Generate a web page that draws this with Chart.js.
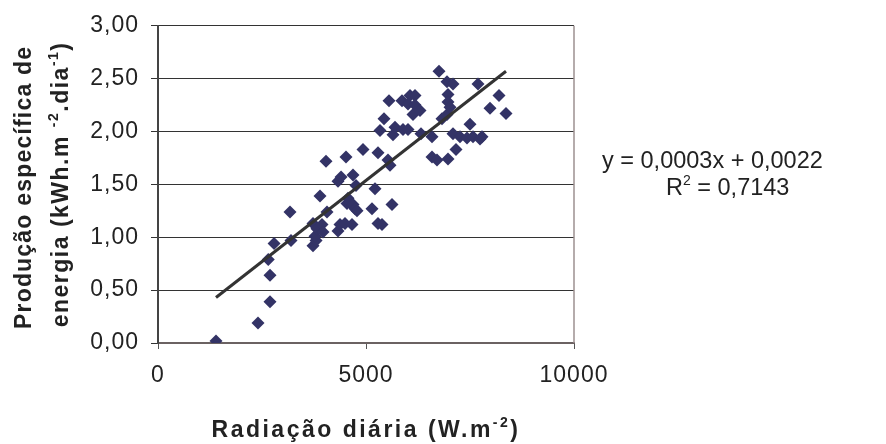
<!DOCTYPE html>
<html>
<head>
<meta charset="utf-8">
<script src="https://cdn.jsdelivr.net/npm/chart.js@4.4.1/dist/chart.umd.min.js"></script>
<style>
  html, body { margin: 0; padding: 0; background: #ffffff; }
  canvas { display: block; }
</style>
</head>
<body>
<canvas id="c" width="886" height="444"></canvas>
<script>
// ---- data ----
const radiation = [1394, 2404, 2692, 2692, 2650, 2790, 3197, 3173, 3726, 3800, 3774, 3726, 3822, 3942, 3966, 3894, 4038, 4063, 4327, 4375, 4495, 4327, 4400, 4519, 4543, 4567, 4615, 4663, 4688, 4688, 4736, 4760, 4784, 4928, 5144, 5216, 5288, 5288, 5385, 5337, 5433, 5529, 5577, 5625, 5553, 5649, 5697, 5865, 5889, 6010, 6058, 6178, 6010, 6178, 6130, 6298, 6322, 6587, 6587, 6707, 6755, 6827, 6947, 6971, 6971, 7019, 6947, 7091, 6971, 7163, 7091, 7260, 7428, 7500, 7572, 7692, 7740, 7788, 7981, 8197, 8365];
const production = [0.02, 0.19, 0.39, 0.64, 0.79, 0.94, 0.97, 1.24, 0.92, 0.97, 1.01, 1.13, 1.08, 1.12, 1.05, 1.39, 1.72, 1.24, 1.06, 1.12, 1.13, 1.53, 1.57, 1.76, 1.32, 1.37, 1.33, 1.12, 1.59, 1.31, 1.27, 1.49, 1.25, 1.83, 1.27, 1.46, 1.80, 1.13, 1.12, 2.01, 2.12, 1.73, 1.68, 1.31, 2.29, 1.97, 2.04, 2.29, 2.02, 2.02, 2.34, 2.34, 2.26, 2.25, 2.16, 2.20, 1.98, 1.95, 1.76, 1.73, 2.57, 2.12, 2.16, 2.35, 2.28, 2.23, 2.47, 2.45, 1.74, 1.83, 1.98, 1.95, 1.94, 2.07, 1.95, 2.45, 1.93, 1.95, 2.22, 2.34, 2.17];
const trendX = [1394, 8365];
const trendY = [0.43, 2.57];
const xTickValues = [0, 5000, 10000];
const xTickLabels = ['0', '5000', '10000'];
const yTickValues = [0, 0.5, 1, 1.5, 2, 2.5, 3];
const yTickLabels = ['0,00', '0,50', '1,00', '1,50', '2,00', '2,50', '3,00'];
const xTitle = [['Radiação diária (W.m', false], ['-2', true], [')', false]];
const yTitle1 = [['Produção específica de', false]];
const yTitle2 = [['energia (kWh.m ', false], ['-2', true], ['.dia', false], ['-1', true], [')', false]];
const eqLine1 = [['y = 0,0003x + 0,0022', false]];
const eqLine2 = [['R', false], ['2', true], [' = 0,7143', false]];

// ---- chart ----
const FONT = '"Liberation Sans", Arial, Helvetica, sans-serif';
const points = radiation.map((x, i) => ({ x: x, y: production[i] }));
const trend = trendX.map((x, i) => ({ x: x, y: trendY[i] }));

function setFont(ctx, size, bold, sup, spacing) {
  ctx.font = (bold ? 'bold ' : '') + (sup ? Math.round(size * 0.6) : size) + 'px ' + FONT;
  if ('letterSpacing' in ctx) ctx.letterSpacing = spacing + 'px';
}
function renderRich(ctx, parts, x, y, size, bold, spacing, align) {
  const widths = parts.map(([t, sup]) => { setFont(ctx, size, bold, sup, spacing); return ctx.measureText(t).width; });
  const total = widths.reduce((a, b) => a + b, 0);
  let cx = align === 'center' ? x - total / 2 : x;
  ctx.textAlign = 'left';
  ctx.textBaseline = 'alphabetic';
  parts.forEach(([t, sup], i) => {
    setFont(ctx, size, bold, sup, spacing);
    ctx.fillText(t, cx, sup ? y - size * 0.42 : y);
    cx += widths[i];
  });
  if ('letterSpacing' in ctx) ctx.letterSpacing = '0px';
}

const textPlugin = {
  id: 'texts',
  beforeDraw(chart) {
    if ('letterSpacing' in chart.ctx) chart.ctx.letterSpacing = '1px';
  },
  afterDraw(chart) {
    const ctx = chart.ctx;
    const a = chart.chartArea;
    ctx.save();
    if ('letterSpacing' in ctx) ctx.letterSpacing = '0px';
    // right frame line
    ctx.strokeStyle = '#9c9090';
    ctx.lineWidth = 1.5;
    ctx.beginPath();
    ctx.moveTo(a.right, a.top);
    ctx.lineTo(a.right, a.bottom);
    ctx.stroke();
    ctx.fillStyle = '#222222';
    // x title
    renderRich(ctx, xTitle, (a.left + a.right) / 2, 437, 23, true, 2.5, 'center');
    // y title (rotated)
    const cy = (a.top + a.bottom) / 2 + 3;
    ctx.save();
    ctx.translate(31, cy);
    ctx.rotate(-Math.PI / 2);
    renderRich(ctx, yTitle1, 0, 0, 23, true, 1.2, 'center');
    ctx.restore();
    ctx.save();
    ctx.translate(68, cy - 3);
    ctx.rotate(-Math.PI / 2);
    renderRich(ctx, yTitle2, 0, 0, 23, true, 1.5, 'center');
    ctx.restore();
    // equation
    renderRich(ctx, eqLine1, 602, 168, 23.5, false, 0, 'left');
    renderRich(ctx, eqLine2, 666, 195, 23.5, false, 0, 'left');
    ctx.restore();
  }
};

new Chart(document.getElementById('c'), {
  type: 'scatter',
  data: {
    datasets: [
      {
        data: trend,
        showLine: true,
        borderColor: '#333333',
        borderWidth: 3,
        pointRadius: 0,
        fill: false,
        order: 0
      },
      {
        data: points,
        pointStyle: 'rectRot',
        pointRadius: 6.5,
        backgroundColor: '#333366',
        borderColor: '#333366',
        borderWidth: 0,
        order: 1
      }
    ]
  },
  options: {
    responsive: false,
    animation: false,
    devicePixelRatio: 1,
    layout: { padding: { left: 0, right: 312, top: 23, bottom: 0 } },
    plugins: { legend: { display: false }, tooltip: { enabled: false } },
    scales: {
      x: {
        type: 'linear',
        min: 0, max: 10000,
        afterBuildTicks(s) { s.ticks = xTickValues.map(v => ({ value: v })); },
        ticks: {
          callback: (v, i) => xTickLabels[i],
          font: { family: FONT, size: 23 },
          color: '#222222',
          padding: 13,
          maxRotation: 0
        },
        grid: { drawOnChartArea: false, tickLength: 6, tickColor: '#555555' },
        border: { color: '#6b6262', width: 2 },
        afterFit(s) { s.height = 101; }
      },
      y: {
        min: 0, max: 3,
        afterBuildTicks(s) { s.ticks = yTickValues.map(v => ({ value: v })); },
        ticks: {
          callback: (v, i) => yTickLabels[i],
          font: { family: FONT, size: 23 },
          color: '#222222',
          padding: 12
        },
        grid: { color: '#333333', lineWidth: 1, tickLength: 7, tickColor: '#333333' },
        border: { color: '#444444', width: 2 },
        afterFit(s) { s.width = 158; }
      }
    }
  },
  plugins: [textPlugin]
});
</script>
</body>
</html>
